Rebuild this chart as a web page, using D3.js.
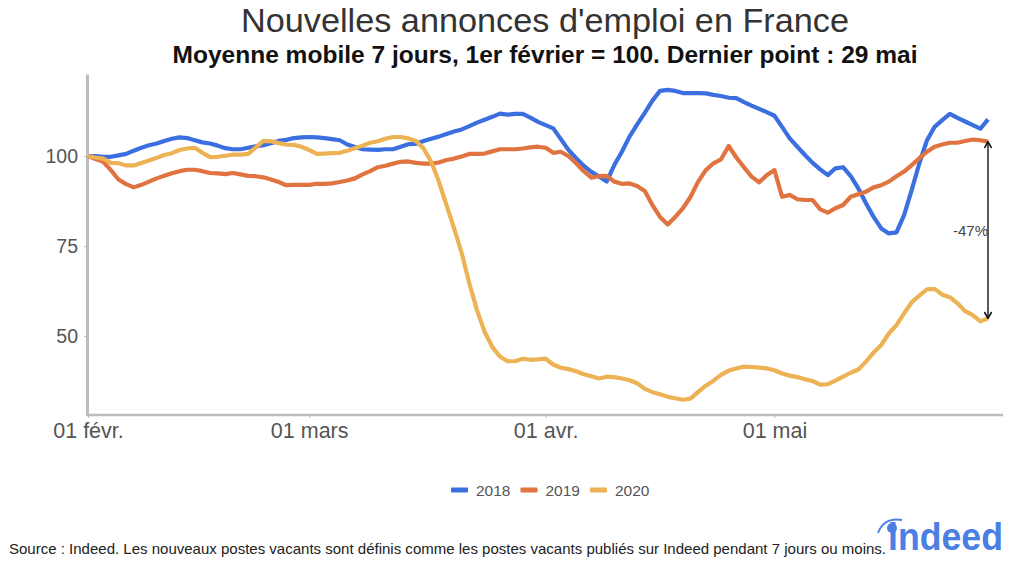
<!DOCTYPE html>
<html>
<head>
<meta charset="utf-8">
<script src="https://cdn.jsdelivr.net/npm/d3@7"></script>
<style>
  html, body { margin: 0; background: #fff; }
  text { font-family: "Liberation Sans", Arial, sans-serif; }
</style>
</head>
<body>
<div id="chart"></div>
<script>
//years shown in the legend
const years = ['2018', '2019', '2020']
const yearColors = ['#3b6fe0', '#e0733f', '#edb253']

//daily values from 1 feb to 29 may (7 day moving average, 1 feb = 100)
const values2018 = [100,100,99.8,99.8,100.2,100.6,101.5,102.3,103,103.5,104.2,104.8,105.2,105,104.4,103.8,103.5,102.9,102.2,101.9,
  101.9,102.3,102.7,103,103.6,104.2,104.5,105,105.2,105.3,105.2,105,104.7,104.4,103.2,102.5,101.9,101.8,101.7,101.9,
  101.9,102.6,103.3,103.4,104.2,104.8,105.4,106.1,106.8,107.4,108.3,109.3,110.1,110.9,111.8,111.5,111.7,111.7,110.7,109.5,
  108.6,107.7,104.7,101.7,99.4,97.3,95.6,94.3,92.9,97.5,101.2,105.4,108.8,112,115.4,118.1,118.4,118.1,117.5,117.5,
  117.5,117.4,117,116.7,116.2,116.1,115,114,113.1,112.2,111.2,108.1,104.9,102.6,100.3,98.1,96.3,94.7,96.6,96.9,
  94.4,91,86.9,83.1,79.9,78.5,78.8,83.6,90.6,98,104.4,108.1,110,111.7,110.6,109.6,108.6,107.6,110.2]
const values2019 = [100,99.2,98.4,96.1,93.5,92.2,91.3,92,92.9,93.8,94.5,95.2,95.8,96.2,96.2,95.8,95.3,95.2,95,95.3,
  94.9,94.5,94.4,94.1,93.5,92.8,91.9,92,92,92,92.3,92.3,92.4,92.8,93.2,93.8,94.9,95.8,96.9,97.3,
  97.9,98.4,98.5,98.1,97.9,97.9,98.2,98.9,99.3,99.9,100.6,100.6,100.7,101.3,101.9,101.9,101.9,102.1,102.4,102.6,
  102.3,100.9,101.2,100,98,95.8,94,94.4,94.5,92.9,92.3,92.4,91.7,90.3,86.4,83.1,81,83.1,85.5,88.7,
  92.9,96.1,98,99.1,102.8,99.6,96.9,94.3,92.7,94.7,96.1,88.7,89.2,88,87.8,87.8,85.2,84.3,85.5,86.4,
  88.7,89.4,90.1,91.3,91.9,92.9,94.4,95.7,97.5,99.4,101.2,102.6,103.2,103.7,103.7,104.2,104.6,104.4,104]
const values2020 = [100,99.6,99.3,98.1,98,97.4,97.4,98.1,98.8,99.5,100.3,100.8,101.7,102.1,102.3,100.9,99.7,99.8,100.1,100.4,
  100.4,100.6,102.4,104.2,104.1,103.6,103.2,103.1,102.6,101.7,100.6,100.7,100.8,100.9,101.5,102.2,102.9,103.7,104.1,104.8,
  105.3,105.3,104.9,104.2,102.1,98.4,92.9,86.4,79.9,73,64.6,57.2,51.2,47,44.3,43,43,43.7,43.4,43.5,
  43.7,42.1,41.2,40.8,40.2,39.4,38.8,38.2,38.7,38.6,38.2,37.7,36.9,35.3,34.4,33.8,33.1,32.7,32.3,32.6,
  34.5,36.2,37.6,39.2,40.4,41,41.5,41.4,41.2,41,40.5,39.6,39,38.6,38,37.5,36.5,36.6,37.6,38.7,
  39.8,40.7,42.9,45.4,47.5,50.7,53,56.3,59.4,61.2,63,63.1,61.5,60.8,59.1,56.9,55.8,54.1,54.9]
const seriesValues = [values2018, values2019, values2020]

//axis ticks
const yTicks = [50, 75, 100]
const xTicks = [new Date(2020, 1, 1), new Date(2020, 2, 1), new Date(2020, 3, 1), new Date(2020, 4, 1)]
const xTickLabels = ['01 févr.', '01 mars', '01 avr.', '01 mai']
const days = d3.timeDay.range(new Date(2020, 1, 1), new Date(2020, 4, 30))

//annotation at the last point
const gapLabel = '-47%'

const svg = d3.select('#chart')
  .append('svg')
  .attr('width', 1024)
  .attr('height', 579)
  .style('display', 'block')

//scales, the plot runs from x=88 and y=74 to y=415
const x = d3.scaleTime()
  .domain([new Date(2020, 1, 1), new Date(2020, 4, 29)])
  .range([88, 988])
const y = d3.scaleLinear()
  .domain([28.06, 122.8])
  .range([415, 74])

//title
svg.append('text')
  .attr('x', 545).attr('y', 32)
  .attr('text-anchor', 'middle')
  .attr('textLength', 608)
  .attr('lengthAdjust', 'spacingAndGlyphs')
  .style('font-size', '34px')
  .style('fill', '#333')
  .text("Nouvelles annonces d'emploi en France")
svg.append('text')
  .attr('x', 545).attr('y', 63)
  .attr('text-anchor', 'middle')
  .attr('textLength', 745)
  .attr('lengthAdjust', 'spacingAndGlyphs')
  .style('font-size', '24.5px')
  .style('font-weight', 'bold')
  .style('fill', '#111')
  .text('Moyenne mobile 7 jours, 1er février = 100. Dernier point : 29 mai')

//y axis
const yAxis = svg.append('g')
  .attr('transform', 'translate(87,0)')
  .call(d3.axisLeft(y).tickValues(yTicks).tickSize(3).tickSizeOuter(0).tickPadding(6))
yAxis.select('.domain').attr('stroke', '#bdbdbd').attr('stroke-width', 3)
yAxis.selectAll('.tick line').attr('stroke', '#bdbdbd')
yAxis.selectAll('text').style('font-size', '19.5px').style('fill', '#555')

//x axis
const xAxis = svg.append('g')
  .attr('transform', 'translate(0,415)')
  .call(d3.axisBottom(x).tickValues(xTicks).tickSize(3).tickSizeOuter(0).tickPadding(5)
    .tickFormat((d, i) => xTickLabels[i]))
xAxis.select('.domain')
  .attr('d', 'M86,0H1003')
  .attr('stroke', '#bdbdbd')
  .attr('stroke-width', 2.5)
xAxis.selectAll('.tick line').attr('stroke', '#bdbdbd')
xAxis.selectAll('text').style('font-size', '21.5px').style('fill', '#555')

//the lines
const line = d3.line()
  .x((d, i) => x(days[i]))
  .y(d => y(d))

svg.selectAll('.series')
  .data(seriesValues)
  .join('path')
  .attr('class', 'series')
  .attr('d', line)
  .attr('fill', 'none')
  .attr('stroke', (d, i) => yearColors[i])
  .attr('stroke-width', 4.2)
  .attr('stroke-linejoin', 'round')

//arrow between the 2019 and 2020 last points
const defs = svg.append('defs')
defs.append('marker')
  .attr('id', 'arrow')
  .attr('viewBox', '0 0 10 10')
  .attr('refX', 9).attr('refY', 5)
  .attr('markerWidth', 8).attr('markerHeight', 8)
  .attr('markerUnits', 'userSpaceOnUse')
  .attr('orient', 'auto-start-reverse')
  .append('path')
  .attr('d', 'M1,0.5L9,5L1,9.5')
  .attr('fill', 'none')
  .attr('stroke', '#111')
  .attr('stroke-width', 2)

const lastDay = days[days.length - 1]
svg.append('line')
  .attr('x1', x(lastDay)).attr('x2', x(lastDay))
  .attr('y1', y(values2019[values2019.length - 1]))
  .attr('y2', y(values2020[values2020.length - 1]))
  .attr('stroke', '#222')
  .attr('stroke-width', 1.5)
  .attr('marker-start', 'url(#arrow)')
  .attr('marker-end', 'url(#arrow)')
svg.append('text')
  .attr('x', x(lastDay)).attr('y', 236)
  .attr('text-anchor', 'end')
  .style('font-size', '15px')
  .style('fill', '#444')
  .text(gapLabel)

//legend
const legendX = d3.scalePoint().domain(years).range([451, 590])
const legend = svg.selectAll('.legend')
  .data(years)
  .join('g')
  .attr('class', 'legend')
  .attr('transform', d => `translate(${legendX(d)},490)`)
legend.append('rect')
  .attr('y', -2.5).attr('width', 17).attr('height', 5).attr('rx', 1)
  .attr('fill', (d, i) => yearColors[i])
legend.append('text')
  .attr('x', 25).attr('y', 5.5)
  .style('font-size', '15.5px')
  .style('fill', '#555')
  .text(d => d)

//source
svg.append('text')
  .attr('x', 9).attr('y', 554)
  .attr('textLength', 877)
  .attr('lengthAdjust', 'spacingAndGlyphs')
  .style('font-size', '14.5px')
  .style('fill', '#222')
  .text('Source : Indeed. Les nouveaux postes vacants sont définis comme les postes vacants publiés sur Indeed pendant 7 jours ou moins.')

//logo
const logoColor = '#4a80e4'
svg.append('text')
  .attr('x', 888).attr('y', 550)
  .attr('textLength', 115)
  .attr('lengthAdjust', 'spacingAndGlyphs')
  .style('font-size', '39px')
  .style('font-weight', 'bold')
  .style('fill', logoColor)
  .text('indeed')
svg.append('circle')
  .attr('cx', 892).attr('cy', 528).attr('r', 5)
  .attr('fill', logoColor)
svg.append('path')
  .attr('d', 'M878,533Q884,517 902,520')
  .attr('fill', 'none')
  .attr('stroke', logoColor)
  .attr('stroke-width', 1.8)
</script>
</body>
</html>
